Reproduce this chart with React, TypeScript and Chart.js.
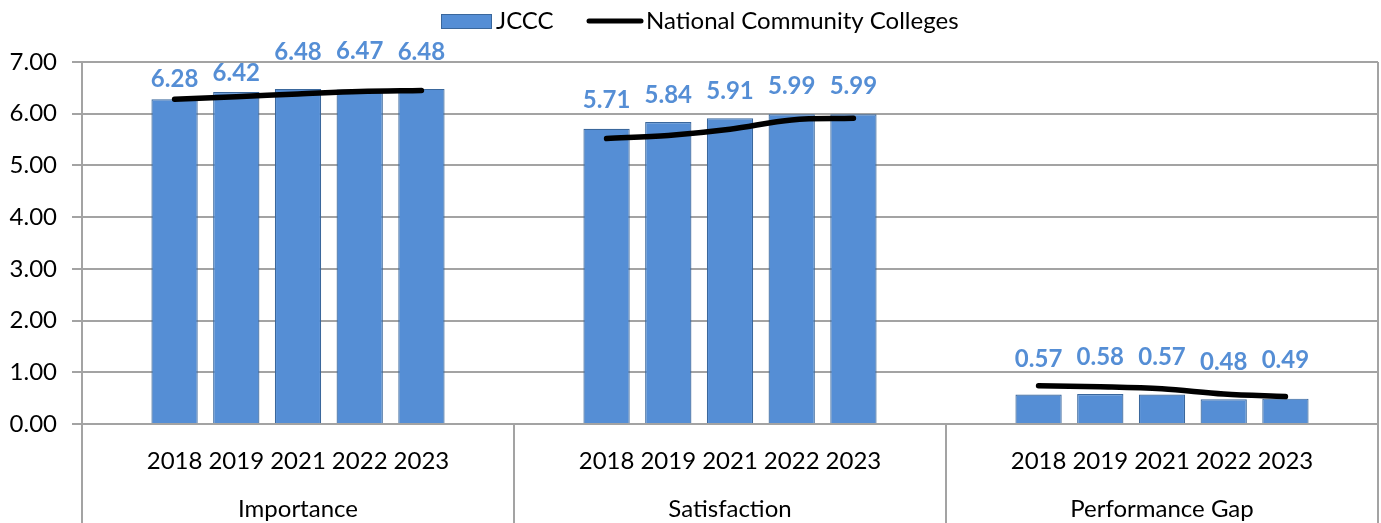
import React, { useEffect, useRef } from 'react';
import { Chart, registerables } from 'chart.js';

Chart.register(...registerables);

// ---- data ----
const groupNames = ['Importance', 'Satisfaction', 'Performance Gap'];
const years = ['2018', '2019', '2021', '2022', '2023'];

const jcccImportance = [6.28, 6.42, 6.48, 6.47, 6.48];
const jcccSatisfaction = [5.71, 5.84, 5.91, 5.99, 5.99];
const jcccGap = [0.57, 0.58, 0.57, 0.48, 0.49];

const nationalImportance = [6.28, 6.33, 6.38, 6.43, 6.45];
const nationalSatisfaction = [5.52, 5.58, 5.7, 5.88, 5.91];
const nationalGap = [0.74, 0.72, 0.68, 0.58, 0.53];

const yTickValues = [0, 1, 2, 3, 4, 5, 6, 7];

// label lift above the bar top (px) — style only
const labelLift = [
  [20, 19, 37, 38, 37],
  [28, 27, 27, 28, 28],
  [35, 37, 37, 37, 38],
];

const FONT = 'Lato, "Open Sans", "DejaVu Sans", sans-serif';
const BAR_FILL = '#558ed5';
const BAR_EDGE = '#3a679c';
const GRID = '#a3a3a3';
const TEXT_SIZE = 24;

// build the 21-slot category axis: blank, 5 years, blank per group
const jcccGroups = [jcccImportance, jcccSatisfaction, jcccGap];
const nationalGroups = [nationalImportance, nationalSatisfaction, nationalGap];
const labels: string[] = [];
const barData: (number | null)[] = [];
const lineData: (number | null)[] = [];
const liftData: number[] = [];
jcccGroups.forEach((g, gi) => {
  labels.push('');
  barData.push(null);
  lineData.push(null);
  liftData.push(0);
  years.forEach((y, i) => {
    labels.push(y);
    barData.push(g[i]);
    lineData.push(nationalGroups[gi][i]);
    liftData.push(labelLift[gi][i]);
  });
  labels.push('');
  barData.push(null);
  lineData.push(null);
  liftData.push(0);
});

const decorPlugin = {
  id: 'decor',
  afterDatasetsDraw(chart: any) {
    const ctx = chart.ctx as CanvasRenderingContext2D;
    const area = chart.chartArea;
    const xs = chart.scales.x;
    const H = chart.height;
    ctx.save();

    // vertical dividers / borders
    ctx.strokeStyle = GRID;
    ctx.lineWidth = 2;
    const slots = years.length + 2;
    const bounds: number[] = [area.left];
    for (let g = 1; g < groupNames.length; g++) {
      const a = xs.getPixelForValue(g * slots - 1);
      const b = xs.getPixelForValue(g * slots);
      bounds.push((a + b) / 2);
    }
    bounds.push(area.right);
    bounds.forEach((bx, i) => {
      ctx.beginPath();
      const top = i === bounds.length - 1 ? area.top : area.bottom;
      ctx.moveTo(Math.round(bx), top);
      ctx.lineTo(Math.round(bx), H);
      ctx.stroke();
    });

    // group labels
    ctx.fillStyle = '#000';
    ctx.font = `${TEXT_SIZE}px ${FONT}`;
    ctx.textAlign = 'center';
    ctx.textBaseline = 'alphabetic';
    groupNames.forEach((name, g) => {
      const cx = (bounds[g] + bounds[g + 1]) / 2;
      ctx.fillText(name, cx, 517);
    });

    // data labels
    const meta = chart.getDatasetMeta(1);
    ctx.font = `bold 24px ${FONT}`;
    ctx.fillStyle = BAR_FILL;
    ctx.textBaseline = 'middle';
    meta.data.forEach((el: any, i: number) => {
      const v = barData[i];
      if (v == null) return;
      ctx.fillText(v.toFixed(2), el.x, el.y - liftData[i]);
    });

    // legend
    ctx.fillStyle = BAR_FILL;
    ctx.strokeStyle = BAR_EDGE;
    ctx.lineWidth = 1;
    ctx.fillRect(441, 14, 51, 15);
    ctx.strokeRect(441.5, 14.5, 50, 14);
    ctx.fillStyle = '#000';
    ctx.font = `${TEXT_SIZE}px ${FONT}`;
    ctx.textAlign = 'left';
    ctx.textBaseline = 'alphabetic';
    ctx.fillText('JCCC', 496, 29);
    ctx.strokeStyle = '#000';
    ctx.lineWidth = 5;
    ctx.lineCap = 'round';
    ctx.beginPath();
    ctx.moveTo(589, 21);
    ctx.lineTo(641, 21);
    ctx.stroke();
    ctx.fillText('National Community Colleges', 646, 29);

    ctx.restore();
  },
};

export default function App() {
  const ref = useRef<HTMLCanvasElement | null>(null);

  useEffect(() => {
    if (!ref.current) return;
    const chart = new Chart(ref.current, {
      type: 'bar',
      data: {
        labels,
        datasets: [
          {
            type: 'line',
            label: 'National Community Colleges',
            data: lineData,
            borderColor: '#000',
            borderWidth: 5.5,
            borderCapStyle: 'round',
            borderJoinStyle: 'round',
            pointRadius: 0,
            tension: 0.35,
            spanGaps: false,
            order: 0,
          } as any,
          {
            type: 'bar',
            label: 'JCCC',
            data: barData,
            backgroundColor: BAR_FILL,
            borderColor: BAR_EDGE,
            borderWidth: 1.2,
            barPercentage: 0.75,
            categoryPercentage: 1,
            order: 1,
          },
        ],
      },
      options: {
        responsive: false,
        animation: false,
        layout: { padding: { top: 62, right: 3, left: 0, bottom: 0 } },
        plugins: {
          legend: { display: false },
          tooltip: { enabled: false },
        },
        scales: {
          x: {
            grid: { display: false, drawTicks: false },
            border: { display: false },
            ticks: {
              autoSkip: false,
              maxRotation: 0,
              minRotation: 0,
              padding: 23,
              color: '#000',
              font: { family: FONT, size: TEXT_SIZE },
            },
            afterFit: (s: any) => {
              s.height = 99;
            },
          },
          y: {
            min: 0,
            max: 7,
            afterBuildTicks: (s: any) => {
              s.ticks = yTickValues.map((v) => ({ value: v }));
            },
            grid: { color: GRID, lineWidth: 2, tickLength: 10, drawTicks: true },
            border: { display: true, color: GRID, width: 2 },
            ticks: {
              padding: 15,
              color: '#000',
              font: { family: FONT, size: TEXT_SIZE },
              callback: (v: any) => Number(v).toFixed(2),
            },
            afterFit: (s: any) => {
              s.width = 82;
            },
          },
        },
      },
      plugins: [decorPlugin],
    });
    return () => chart.destroy();
  }, []);

  return (
    <div style={{ position: 'absolute', left: 0, top: 0, width: 1381, height: 523, background: '#fff' }}>
      <canvas ref={ref} width={1381} height={523} style={{ display: 'block', width: 1381, height: 523 }} />
    </div>
  );
}
